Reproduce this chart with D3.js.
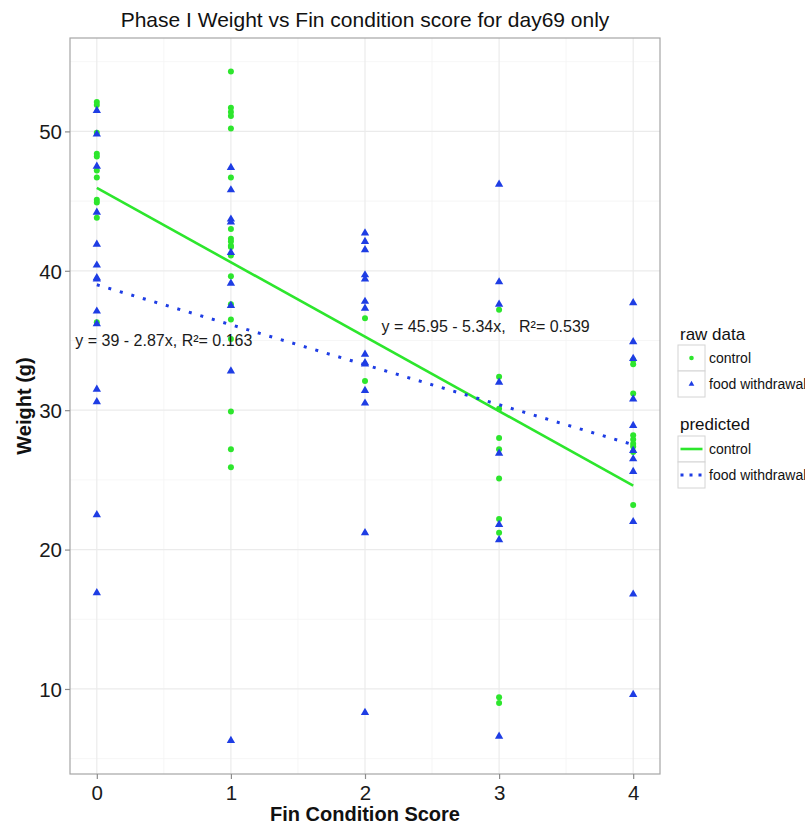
<!DOCTYPE html>
<html>
<head>
<meta charset="utf-8">
<script src="https://cdn.jsdelivr.net/npm/d3@7"></script>
<style>
  html, body { margin: 0; padding: 0; background: #fff; }
  svg { display: block; font-family: "Liberation Sans", Arial, Helvetica, sans-serif; }
</style>
</head>
<body>
<svg id="chart" width="805" height="825"></svg>
<script>
// Fin condition scores on the x axis
const scores = [0, 1, 2, 3, 4];

// Weights (g) of control fish, one list per fin condition score
const controlWeights = [
  [52.1, 51.9, 49.9, 48.4, 48.2, 47.2, 46.7, 45.1, 44.9, 43.8, 36.3],
  [54.3, 51.7, 51.4, 51.1, 50.2, 46.7, 43.0, 42.3, 42.1, 41.8, 41.7, 41.1, 39.6, 37.6, 36.5, 35.1, 29.9, 27.2, 25.9],
  [36.6, 32.1],
  [37.2, 32.4, 30.1, 28.0, 27.2, 25.1, 22.2, 21.2, 9.4, 9.0],
  [33.6, 33.3, 31.2, 28.2, 27.9, 27.6, 27.4, 27.0, 23.2]
];

// Weights (g) of food-withdrawal fish, one list per fin condition score
const foodWithdrawalWeights = [
  [51.5, 49.8, 47.5, 44.2, 41.9, 40.4, 39.5, 39.4, 37.1, 36.2, 31.5, 30.6, 22.5, 16.9],
  [47.4, 45.8, 43.7, 43.5, 41.3, 39.1, 37.5, 32.8, 6.3],
  [42.7, 42.1, 41.5, 39.7, 39.4, 37.8, 37.3, 34.0, 33.4, 33.3, 31.4, 30.5, 21.2, 8.3],
  [46.2, 39.2, 37.6, 32.0, 26.9, 21.8, 20.7, 6.6],
  [37.7, 34.9, 33.7, 30.8, 28.9, 27.1, 26.5, 25.6, 22.0, 16.8, 9.6]
];

// Fitted linear models: [intercept, slope, R²]
const controlFit = [45.95, -5.34, 0.539];
const foodWithdrawalFit = [39, -2.87, 0.163];

// Labels
const xTicks = [0, 1, 2, 3, 4];
const yTicks = [10, 20, 30, 40, 50];
const xMinor = [0.5, 1.5, 2.5, 3.5];
const yMinor = [5, 15, 25, 35, 45, 55];
const groupNames = ["control", "food withdrawal"];
const titleText = "Phase I Weight vs Fin condition score for day69 only";
const xTitle = "Fin Condition Score";
const yTitle = "Weight (g)";
const controlLabel = "y = 45.95 - 5.34x,   R²= 0.539";
const foodLabel = "y = 39 - 2.87x, R²= 0.163";
const controlLabelPos = [2.9, 36];
const foodLabelPos = [0.5, 35];

const GREEN = "#2de62d";
const BLUE = "#1e3de4";

const svg = d3.select("#chart");
const panel = { left: 70, right: 660, top: 38, bottom: 774 };

// Flatten per-score lists into point records
const toPoints = (lists, group) => lists.flatMap((ws, i) => ws.map(w => ({ x: scores[i], y: w, group })));
const controlPts = toPoints(controlWeights, 0);
const foodPts = toPoints(foodWithdrawalWeights, 1);
const allW = controlPts.concat(foodPts).map(d => d.y);

// Continuous scales with 5% padding on each side
const xExt = d3.extent(scores), yExt = d3.extent(allW);
const xPad = (xExt[1] - xExt[0]) * 0.05, yPad = (yExt[1] - yExt[0]) * 0.05;
const x = d3.scaleLinear().domain([xExt[0] - xPad, xExt[1] + xPad]).range([panel.left, panel.right]);
const y = d3.scaleLinear().domain([yExt[0] - yPad, yExt[1] + yPad]).range([panel.bottom, panel.top]);

// Panel background and grid
svg.append("rect").attr("x", panel.left).attr("y", panel.top)
  .attr("width", panel.right - panel.left).attr("height", panel.bottom - panel.top).attr("fill", "#fff");

const grid = svg.append("g");
grid.selectAll(".vminor").data(xMinor).join("line")
  .attr("x1", d => x(d)).attr("x2", d => x(d)).attr("y1", panel.top).attr("y2", panel.bottom)
  .attr("stroke", "#f4f4f4").attr("stroke-width", 0.8);
grid.selectAll(".hminor").data(yMinor.filter(v => y(v) > panel.top && y(v) < panel.bottom)).join("line")
  .attr("x1", panel.left).attr("x2", panel.right).attr("y1", d => y(d)).attr("y2", d => y(d))
  .attr("stroke", "#f4f4f4").attr("stroke-width", 0.8);
grid.selectAll(".vmajor").data(xTicks).join("line")
  .attr("x1", d => x(d)).attr("x2", d => x(d)).attr("y1", panel.top).attr("y2", panel.bottom)
  .attr("stroke", "#ebebeb").attr("stroke-width", 1.2);
grid.selectAll(".hmajor").data(yTicks).join("line")
  .attr("x1", panel.left).attr("x2", panel.right).attr("y1", d => y(d)).attr("y2", d => y(d))
  .attr("stroke", "#ebebeb").attr("stroke-width", 1.2);

// Points: control circles, food withdrawal triangles
const triangle = d3.symbol().type(d3.symbolTriangle).size(30);
svg.append("g").selectAll("circle").data(controlPts).join("circle")
  .attr("cx", d => x(d.x)).attr("cy", d => y(d.y)).attr("r", 3).attr("fill", GREEN);
svg.append("g").selectAll("path").data(foodPts).join("path")
  .attr("d", triangle).attr("transform", d => `translate(${x(d.x)},${y(d.y)})`).attr("fill", BLUE);

// Fitted lines
const fitLine = d3.line().x(d => x(d[0])).y(d => y(d[1]));
const fitPts = fit => [xExt[0], xExt[1]].map(v => [v, fit[0] + fit[1] * v]);
svg.append("path").attr("d", fitLine(fitPts(controlFit)))
  .attr("fill", "none").attr("stroke", GREEN).attr("stroke-width", 2.6);
svg.append("path").attr("d", fitLine(fitPts(foodWithdrawalFit)))
  .attr("fill", "none").attr("stroke", BLUE).attr("stroke-width", 3)
  .attr("stroke-dasharray", "3,9");

// Equation labels
svg.append("text").attr("x", x(foodLabelPos[0])).attr("y", y(foodLabelPos[1])).attr("dy", "0.35em")
  .attr("text-anchor", "middle").attr("font-size", 16).attr("fill", "#1a1a1a")
  .style("white-space", "pre").text(foodLabel);
svg.append("text").attr("x", x(controlLabelPos[0])).attr("y", y(controlLabelPos[1])).attr("dy", "0.35em")
  .attr("text-anchor", "middle").attr("font-size", 16).attr("fill", "#1a1a1a")
  .style("white-space", "pre").text(controlLabel);

// Panel border
svg.append("rect").attr("x", panel.left).attr("y", panel.top)
  .attr("width", panel.right - panel.left).attr("height", panel.bottom - panel.top)
  .attr("fill", "none").attr("stroke", "#a6a6a6").attr("stroke-width", 1.2);

// Axes
const xAxis = svg.append("g").attr("transform", `translate(0,${panel.bottom})`)
  .call(d3.axisBottom(x).tickValues(xTicks).tickSize(5).tickPadding(6).tickFormat(d3.format("d")));
const yAxis = svg.append("g").attr("transform", `translate(${panel.left},0)`)
  .call(d3.axisLeft(y).tickValues(yTicks).tickSize(5).tickPadding(3).tickFormat(d3.format("d")));
[xAxis, yAxis].forEach(a => {
  a.select(".domain").remove();
  a.selectAll(".tick line").attr("stroke", "#8c8c8c").attr("stroke-width", 1.2);
  a.selectAll(".tick text").attr("font-size", 20.5).attr("fill", "#1a1a1a")
    .attr("font-family", "'Liberation Sans', Arial, sans-serif");
});
yAxis.selectAll(".tick text").attr("dy", "0.36em");

// Titles
svg.append("text").attr("x", (panel.left + panel.right) / 2).attr("y", 27)
  .attr("text-anchor", "middle").attr("font-size", 21).attr("fill", "#111").text(titleText);
svg.append("text").attr("x", (panel.left + panel.right) / 2).attr("y", 821)
  .attr("text-anchor", "middle").attr("font-size", 20).attr("font-weight", "bold").attr("fill", "#111").text(xTitle);
svg.append("text").attr("transform", `translate(31,${(panel.top + panel.bottom) / 2}) rotate(-90)`)
  .attr("text-anchor", "middle").attr("font-size", 20).attr("font-weight", "bold").attr("fill", "#111").text(yTitle);

// Legends
const legend = svg.append("g");
const keyX = 678, keyW = 27, keyH = 26, labelX = 709;
function legendBlock(title, titleY, keyTop, drawKey) {
  legend.append("text").attr("x", 680).attr("y", titleY).attr("font-size", 17).attr("fill", "#111").text(title);
  groupNames.forEach((name, i) => {
    const top = keyTop + i * keyH;
    legend.append("rect").attr("x", keyX).attr("y", top).attr("width", keyW).attr("height", keyH)
      .attr("fill", "#fff").attr("stroke", "#d4d4d4").attr("stroke-width", 1);
    drawKey(i, keyX + keyW / 2, top + keyH / 2);
    legend.append("text").attr("x", labelX).attr("y", top + keyH / 2).attr("dy", "0.35em")
      .attr("font-size", 14).attr("fill", "#111").text(name);
  });
}
legendBlock("raw data", 340, 345, (i, cx, cy) => {
  if (i === 0) legend.append("circle").attr("cx", cx).attr("cy", cy).attr("r", 2.3).attr("fill", GREEN);
  else legend.append("path").attr("d", d3.symbol().type(d3.symbolTriangle).size(14)())
    .attr("transform", `translate(${cx},${cy})`).attr("fill", BLUE);
});
legendBlock("predicted", 430, 436, (i, cx, cy) => {
  const l = legend.append("line").attr("x1", cx - 11).attr("x2", cx + 11).attr("y1", cy).attr("y2", cy);
  if (i === 0) l.attr("stroke", GREEN).attr("stroke-width", 2.6);
  else l.attr("stroke", BLUE).attr("stroke-width", 3).attr("stroke-dasharray", "3,6");
});
</script>
</body>
</html>
